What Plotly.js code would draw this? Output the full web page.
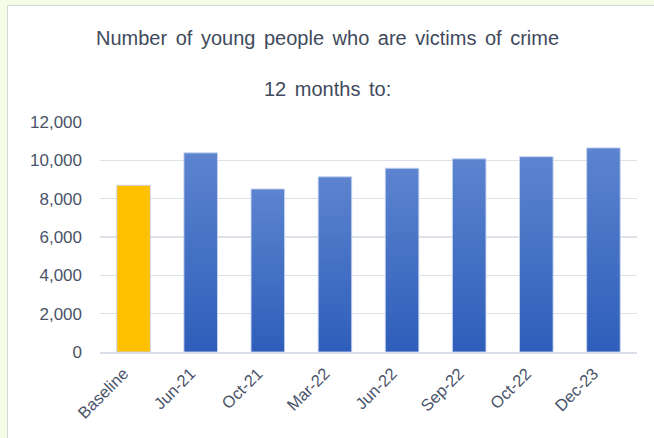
<!DOCTYPE html>
<html>
<head>
<meta charset="utf-8">
<script src="https://cdn.plot.ly/plotly-3.0.1.min.js"></script>
<style>
html,body{margin:0;padding:0;background:#F7FCE6;}
#chart{width:654px;height:438px;}
.annotation-text{word-spacing:3px;}
</style>
</head>
<body>
<div id="chart"></div>
<script>
const categories = ["Baseline", "Jun-21", "Oct-21", "Mar-22", "Jun-22", "Sep-22", "Oct-22", "Dec-23"];
const values = [8700, 10390, 8505, 9140, 9590, 10080, 10190, 10650];
const barColors = ["#FFC000", "#4472C4", "#4472C4", "#4472C4", "#4472C4", "#4472C4", "#4472C4", "#4472C4"];
const titleLine1 = "Number of young people who are victims of crime";
const titleLine2 = "12 months to:";
const yTicks = [0, 2000, 4000, 6000, 8000, 10000, 12000];

const textColor = "#4A5369";
const W = 654, H = 438;
const m = {l: 100, r: 17, t: 122, b: 86};
const pw = W - m.l - m.r, ph = H - m.t - m.b;
const px = x => (x - m.l) / pw;
const py = y => (H - m.b - y) / ph;

const trace = {
  type: "bar",
  x: categories,
  y: values,
  marker: {color: barColors, line: {color: "rgba(200,212,238,0.9)", width: 1}},
  hoverinfo: "none"
};

const layout = {
  width: W, height: H,
  margin: m,
  paper_bgcolor: "#F7FCE6",
  plot_bgcolor: "rgba(0,0,0,0)",
  bargap: 0.5,
  showlegend: false,
  font: {family: "Liberation Sans, Arial, sans-serif", color: textColor, size: 16},
  xaxis: {
    type: "category",
    tickangle: -45,
    showgrid: false,
    showline: true,
    linecolor: "#D9DEE8",
    linewidth: 1.5,
    ticks: "",
    ticklabelshift: -10,
    ticklabelstandoff: 4,
    tickfont: {size: 16.5, color: textColor},
    fixedrange: true
  },
  yaxis: {
    range: [0, 12000],
    tickvals: yTicks,
    ticktext: yTicks.map(v => v.toLocaleString("en-US")),
    showgrid: true,
    gridcolor: "#DDE2EA",
    gridwidth: 1.5,
    zeroline: false,
    showline: false,
    ticks: "",
    ticklabelstandoff: 17,
    tickfont: {size: 17, color: textColor},
    fixedrange: true
  },
  shapes: [{
    type: "rect", xref: "paper", yref: "paper", layer: "below",
    x0: px(7.5), x1: px(660), y0: py(5.5), y1: py(445),
    fillcolor: "#FFFFFF", line: {color: "#D5D9DE", width: 1}
  }],
  annotations: [
    {text: titleLine1, xref: "paper", yref: "paper", x: px(327), y: py(38), showarrow: false,
     xanchor: "center", yanchor: "middle", font: {size: 20, color: "#404A5C"}},
    {text: titleLine2, xref: "paper", yref: "paper", x: px(327), y: py(89), showarrow: false,
     xanchor: "center", yanchor: "middle", font: {size: 20, color: "#404A5C"}}
  ]
};

Plotly.newPlot("chart", [trace], layout, {displayModeBar: false, staticPlot: true}).then(gd => {
  const svg = gd.querySelector("svg.main-svg");
  const ns = "http://www.w3.org/2000/svg";
  let defs = svg.querySelector("defs");
  if (!defs) { defs = document.createElementNS(ns, "defs"); svg.insertBefore(defs, svg.firstChild); }
  const grad = document.createElementNS(ns, "linearGradient");
  grad.setAttribute("id", "blueGrad");
  grad.setAttribute("x1", "0"); grad.setAttribute("y1", "0");
  grad.setAttribute("x2", "0"); grad.setAttribute("y2", "1");
  [["0", "#5C84CF"], ["1", "#2E5EBA"]].forEach(([o, c]) => {
    const s = document.createElementNS(ns, "stop");
    s.setAttribute("offset", o); s.setAttribute("stop-color", c);
    grad.appendChild(s);
  });
  defs.appendChild(grad);
  const paths = gd.querySelectorAll(".barlayer .point path");
  paths.forEach((p, i) => {
    if (barColors[i] === "#4472C4") p.style.fill = "url(#blueGrad)";
  });
});
</script>
</body>
</html>
